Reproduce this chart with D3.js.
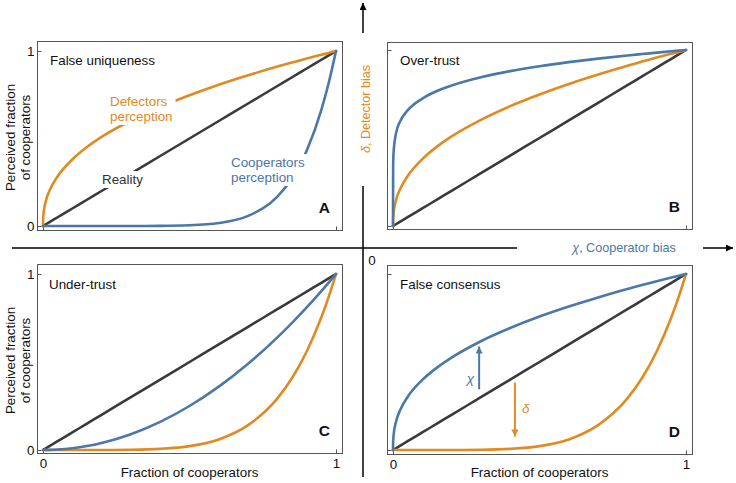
<!DOCTYPE html>
<html><head><meta charset="utf-8">
<script src="https://cdn.jsdelivr.net/npm/d3@7"></script>
<style>
body{margin:0;background:#fff}
svg{display:block;font-family:"Liberation Sans",Arial,Helvetica,sans-serif}
</style>
</head><body>
<svg id="chart" width="736" height="483"></svg>
<script>
// ---- data ----
const fraction      = [0, 0.0005, 0.002, 0.01, 0.025, 0.05, 0.1, 0.15, 0.2, 0.3, 0.4, 0.5, 0.6, 0.7, 0.8, 0.85, 0.9, 0.95, 0.975, 1];
const reality       = [0, 0.0005, 0.002, 0.01, 0.025, 0.05, 0.1, 0.15, 0.2, 0.3, 0.4, 0.5, 0.6, 0.7, 0.8, 0.85, 0.9, 0.95, 0.975, 1];
// A: False uniqueness
const defectorsA    = [0, 0.041, 0.074, 0.145, 0.212, 0.284, 0.380, 0.451, 0.509, 0.603, 0.681, 0.747, 0.807, 0.861, 0.911, 0.934, 0.957, 0.979, 0.989, 1];
const cooperatorsA  = [0, 0, 0, 0, 0, 0, 0, 0, 0, 0.0001, 0.0007, 0.004, 0.017, 0.058, 0.168, 0.273, 0.430, 0.663, 0.817, 1];
// B: Over-trust
const defectorsB    = [0, 0.041, 0.074, 0.145, 0.212, 0.284, 0.380, 0.451, 0.509, 0.603, 0.681, 0.747, 0.807, 0.861, 0.911, 0.934, 0.957, 0.979, 0.989, 1];
const cooperatorsB  = [0, 0.345, 0.419, 0.525, 0.597, 0.657, 0.724, 0.767, 0.798, 0.845, 0.880, 0.908, 0.931, 0.951, 0.969, 0.977, 0.985, 0.993, 0.9965, 1];
// C: Under-trust
const defectorsC    = [0, 0, 0, 0, 0, 0, 0, 0, 0.0001, 0.0013, 0.0065, 0.022, 0.060, 0.141, 0.293, 0.409, 0.560, 0.754, 0.870, 1];
const cooperatorsC  = [0, 0, 0, 0.0001, 0.0006, 0.0025, 0.010, 0.0225, 0.040, 0.090, 0.160, 0.250, 0.360, 0.490, 0.640, 0.7225, 0.810, 0.9025, 0.951, 1];
// D: False consensus
const defectorsD    = [0, 0, 0, 0, 0, 0, 0, 0, 0.0001, 0.0013, 0.0065, 0.022, 0.060, 0.141, 0.293, 0.409, 0.560, 0.754, 0.870, 1];
const cooperatorsD  = [0, 0.048, 0.083, 0.159, 0.229, 0.302, 0.398, 0.468, 0.525, 0.618, 0.693, 0.758, 0.815, 0.867, 0.915, 0.937, 0.959, 0.980, 0.990, 1];
const tickValues    = [0, 1];
const tickLabels    = ["0", "1"];
const panelTitles   = ["False uniqueness", "Over-trust", "Under-trust", "False consensus"];
const panelLetters  = ["A", "B", "C", "D"];
// arrows in panel D: [x, yFrom, yTo]
const chiArrow      = [0.294, 0.345, 0.588];
const deltaArrow    = [0.416, 0.383, 0.076];

// ---- styles ----
const BLUE = "#4a78a8", ORANGE = "#e08b22", DARK = "#3a3a3c", FRAME = "#555";
const FS = 13.4;

const svg = d3.select("#chart");
const defs = svg.append("defs");
function marker(id, color, w, h){
  defs.append("marker").attr("id", id).attr("viewBox", "0 0 10 10")
    .attr("refX", 10).attr("refY", 5).attr("markerWidth", w).attr("markerHeight", h)
    .attr("markerUnits", "userSpaceOnUse").attr("orient", "auto")
    .append("path").attr("d", "M0,0 L10,5 L0,10 Z").attr("fill", color);
}
marker("arBlack", "#000", 8, 7);
marker("arBlue", BLUE, 8, 7);
marker("arOrange", ORANGE, 8, 7);

const panels = [
  {frame:[37,41,342,230], data:[43,336,226,51], cur:[defectorsA, cooperatorsA], yLab:true, xLab:false, title:[50,65]},
  {frame:[387,42,692,229], data:[393,686,226,50], cur:[defectorsB, cooperatorsB], yLab:false, xLab:false, title:[400,65]},
  {frame:[37,264,342,453], data:[43,336,450,274], cur:[defectorsC, cooperatorsC], yLab:true, xLab:true, title:[49,289]},
  {frame:[387,265,692,454], data:[393,686,450,274], cur:[defectorsD, cooperatorsD], yLab:false, xLab:true, title:[400,289]}
];

function bgText(g, x, y, lines, color, opts={}){
  const grp = g.append("g");
  const rect = grp.append("rect").attr("fill", "#fff");
  const t = grp.append("text").attr("x", x).attr("y", y).attr("fill", color)
    .attr("font-size", opts.fs || FS).attr("text-anchor", opts.anchor || "start");
  lines.forEach((l, i) => t.append("tspan").attr("x", x).attr("dy", i === 0 ? 0 : 15).text(l));
  const bb = t.node().getBBox();
  rect.attr("x", bb.x - 3).attr("y", bb.y - 1).attr("width", bb.width + 6).attr("height", bb.height + 2);
  return grp;
}

panels.forEach((p, i) => {
  const g = svg.append("g");
  const [fx0, fy0, fx1, fy1] = p.frame;
  const [dx0, dx1, dy0, dy1] = p.data;
  const x = d3.scaleLinear().domain([0, 1]).range([dx0, dx1]);
  const y = d3.scaleLinear().domain([0, 1]).range([dy0, dy1]);

  g.append("rect").attr("x", fx0 + 0.5).attr("y", fy0 + 0.5)
    .attr("width", fx1 - fx0).attr("height", fy1 - fy0)
    .attr("fill", "none").attr("stroke", FRAME).attr("stroke-width", 1);

  const ya = d3.axisLeft(y).tickValues(tickValues).tickSize(-4).tickPadding(3)
    .tickFormat((d, k) => p.yLab ? tickLabels[k] : "");
  g.append("g").attr("transform", `translate(${fx0 + 0.5},0)`).call(ya)
    .call(s => s.select(".domain").remove())
    .call(s => s.selectAll("line").attr("stroke", FRAME))
    .call(s => s.selectAll("text").attr("font-size", FS).attr("fill", "#111").attr("font-family", "Liberation Sans, Arial, sans-serif"));
  const xa = d3.axisBottom(x).tickValues(tickValues).tickSize(-4).tickPadding(5)
    .tickFormat((d, k) => p.xLab ? tickLabels[k] : "");
  g.append("g").attr("transform", `translate(0,${fy1 + 0.5})`).call(xa)
    .call(s => s.select(".domain").remove())
    .call(s => s.selectAll("line").attr("stroke", FRAME))
    .call(s => s.selectAll("text").attr("font-size", FS).attr("fill", "#111").attr("font-family", "Liberation Sans, Arial, sans-serif"));

  const line = d3.line().x((d, k) => x(fraction[k])).y(d => y(d)).curve(d3.curveMonotoneX);
  const series = [[reality, DARK], [p.cur[0], ORANGE], [p.cur[1], BLUE]];
  series.forEach(([vals, col]) => {
    g.append("path").datum(vals).attr("d", line).attr("fill", "none")
      .attr("stroke", col).attr("stroke-width", 2.6).attr("stroke-linejoin", "round").attr("stroke-linecap", "round");
  });

  g.append("text").attr("x", p.title[0]).attr("y", p.title[1]).attr("font-size", FS).attr("fill", "#111").text(panelTitles[i]);
  g.append("text").attr("x", fx1 - 12).attr("y", fy1 - 17).attr("text-anchor", "end")
    .attr("font-size", 15.5).attr("font-weight", "bold").attr("fill", "#111").text(panelLetters[i]);

  if (p.yLab) {
    const cy = (fy0 + fy1) / 2 + 2;
    const t = g.append("text").attr("transform", `translate(15,${cy}) rotate(-90)`)
      .attr("text-anchor", "middle").attr("font-size", FS).attr("fill", "#111");
    t.append("tspan").attr("x", 0).attr("y", 0).text("Perceived fraction");
    t.append("tspan").attr("x", 0).attr("y", 15).text("of cooperators");
  }
  if (p.xLab) {
    g.append("text").attr("x", (dx0 + dx1) / 2).attr("y", 477).attr("text-anchor", "middle")
      .attr("font-size", FS).attr("fill", "#111").text("Fraction of cooperators");
  }

  if (i === 0) {
    bgText(g, 110, 106, ["Defectors", "perception"], ORANGE);
    bgText(g, 102, 184, ["Reality"], "#333");
    bgText(g, 231, 167, ["Cooperators", "perception"], BLUE);
  }
  if (i === 3) {
    g.append("line").attr("x1", x(chiArrow[0])).attr("x2", x(chiArrow[0]))
      .attr("y1", y(chiArrow[1])).attr("y2", y(chiArrow[2]))
      .attr("stroke", BLUE).attr("stroke-width", 2).attr("marker-end", "url(#arBlue)");
    g.append("line").attr("x1", x(deltaArrow[0])).attr("x2", x(deltaArrow[0]))
      .attr("y1", y(deltaArrow[1])).attr("y2", y(deltaArrow[2]))
      .attr("stroke", ORANGE).attr("stroke-width", 2).attr("marker-end", "url(#arOrange)");
    g.append("text").attr("x", x(chiArrow[0]) - 5).attr("y", 383).attr("text-anchor", "end")
      .attr("font-size", FS).attr("font-style", "italic").attr("fill", BLUE).text("χ");
    g.append("text").attr("x", x(deltaArrow[0]) + 7).attr("y", 413)
      .attr("font-size", FS).attr("font-style", "italic").attr("fill", ORANGE).text("δ");
  }
});

// ---- crosshair axes ----
const ax = svg.append("g");
ax.append("line").attr("x1", 363).attr("x2", 363).attr("y1", 33).attr("y2", 3)
  .attr("stroke", "#000").attr("stroke-width", 1.5).attr("marker-end", "url(#arBlack)");
ax.append("line").attr("x1", 363).attr("x2", 363).attr("y1", 186).attr("y2", 477)
  .attr("stroke", "#000").attr("stroke-width", 1.5);
ax.append("line").attr("x1", 12).attr("x2", 517).attr("y1", 248).attr("y2", 248)
  .attr("stroke", "#000").attr("stroke-width", 1.5);
ax.append("line").attr("x1", 703).attr("x2", 733).attr("y1", 248).attr("y2", 248)
  .attr("stroke", "#000").attr("stroke-width", 1.5).attr("marker-end", "url(#arBlack)");
ax.append("text").attr("x", 372).attr("y", 265).attr("text-anchor", "middle")
  .attr("font-size", FS).attr("fill", "#111").text("0");
const cx = ax.append("text").attr("x", 624).attr("y", 252).attr("text-anchor", "middle")
  .attr("font-size", 12.6).attr("fill", BLUE);
cx.append("tspan").attr("font-style", "italic").text("χ");
cx.append("tspan").text(", Cooperator bias");
const dl = ax.append("text").attr("transform", "translate(370,109) rotate(-90)").attr("text-anchor", "middle")
  .attr("font-size", 12.6).attr("fill", ORANGE);
dl.append("tspan").attr("font-style", "italic").text("δ");
dl.append("tspan").text(", Detector bias");
</script>
</body></html>
